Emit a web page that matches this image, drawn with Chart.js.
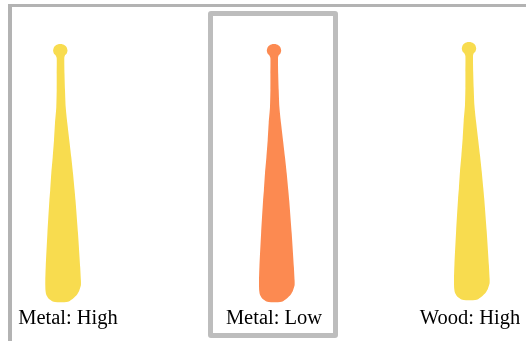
<!DOCTYPE html>
<html>
<head>
<meta charset="utf-8">
<script src="https://cdn.jsdelivr.net/npm/chart.js@4"></script>
<style>
    html, body { margin: 0; padding: 0; background: #fff; overflow: hidden; }
    body { width: 526px; height: 341px; position: relative; }
    #frame { position: absolute; left: 7.5px; top: 4px; width: 530px; height: 350px; border: solid #b3b3b3; border-width: 3px 4px; box-sizing: border-box; }
    #selected { position: absolute; left: 208px; top: 11px; width: 130px; height: 327px; border: 5px solid #bdbdbd; border-radius: 3px; box-sizing: border-box; }
    .panel { position: absolute; height: 287px; width: 120px; }
    #bat0 { left: 8px; top: 44px; }
    #bat1 { left: 214px; top: 44px; }
    #bat2 { left: 410px; top: 42px; height: 289px; }
</style>
</head>
<body>
<div id="frame"></div>
<div id="selected"></div>
<div class="panel" id="bat0"><canvas id="c0"></canvas></div>
<div class="panel" id="bat1"><canvas id="c1"></canvas></div>
<div class="panel" id="bat2"><canvas id="c2"></canvas></div>
<script>
const categories = ['Metal: High', 'Metal: Low', 'Wood: High'];
const levels = ['High', 'Low', 'High'];
const levelColors = { High: '#f8dc4f', Low: '#fc8a51' };
// where the knob sits in each panel, panel units
const knobOffset = [-52.3, -60, -59];
const labelGap = [4, 4, 6];

// bat outline, distance from the knob top and edge either side of the knob centre
const batDepth = [0, 0.6, 1.8, 3.5, 6.5, 9.5, 11.5, 14, 30, 46, 63, 79, 96, 113, 129, 146, 156, 189, 223, 236, 241, 246, 250, 254, 257, 258];
const batLeft = [-1, -3, -5, -6.4, -7.2, -6.4, -4.6, -3.6, -3.6, -3.6, -4, -5.3, -6.3, -7.6, -9, -10.1, -10.9, -12.9, -14.6, -15, -15, -14.8, -14.1, -11.8, -7.5, -3];
const batRight = [1, 3, 5, 6.4, 7.2, 6.4, 4.6, 4, 4.2, 4.7, 5.4, 7, 9, 11, 12.7, 14.3, 15.2, 17.7, 19.9, 20.6, 20.6, 19, 16.8, 12.8, 8.5, 4];

function outline() {
    const pts = batDepth.map((d, i) => ({ x: batLeft[i], y: d }));
    for (let i = batDepth.length - 1; i >= 0; i--) {
        pts.push({ x: batRight[i], y: batDepth[i] });
    }
    pts.push(pts[0]);
    return pts;
}

categories.forEach((name, i) => {
    new Chart(document.getElementById('c' + i), {
        type: 'scatter',
        data: {
            datasets: [{
                label: name,
                data: outline(),
                showLine: true,
                fill: 'shape',
                backgroundColor: levelColors[levels[i]],
                borderWidth: 0,
                pointRadius: 0,
                tension: 0.2
            }]
        },
        options: {
            responsive: true,
            maintainAspectRatio: false,
            animation: false,
            layout: { padding: 0 },
            plugins: { legend: { display: false }, tooltip: { enabled: false } },
            scales: {
                x: {
                    type: 'linear',
                    min: knobOffset[i],
                    max: knobOffset[i] + 120,
                    grid: { display: false, drawTicks: false },
                    border: { display: false },
                    ticks: { display: false },
                    title: {
                        display: true,
                        text: name,
                        color: '#000',
                        font: { family: '"Liberation Serif"', size: 20.5 },
                        padding: { top: labelGap[i], bottom: 0 }
                    }
                },
                y: {
                    type: 'linear',
                    reverse: true,
                    min: 0,
                    max: 258,
                    display: false
                }
            }
        }
    });
});
</script>
</body>
</html>
